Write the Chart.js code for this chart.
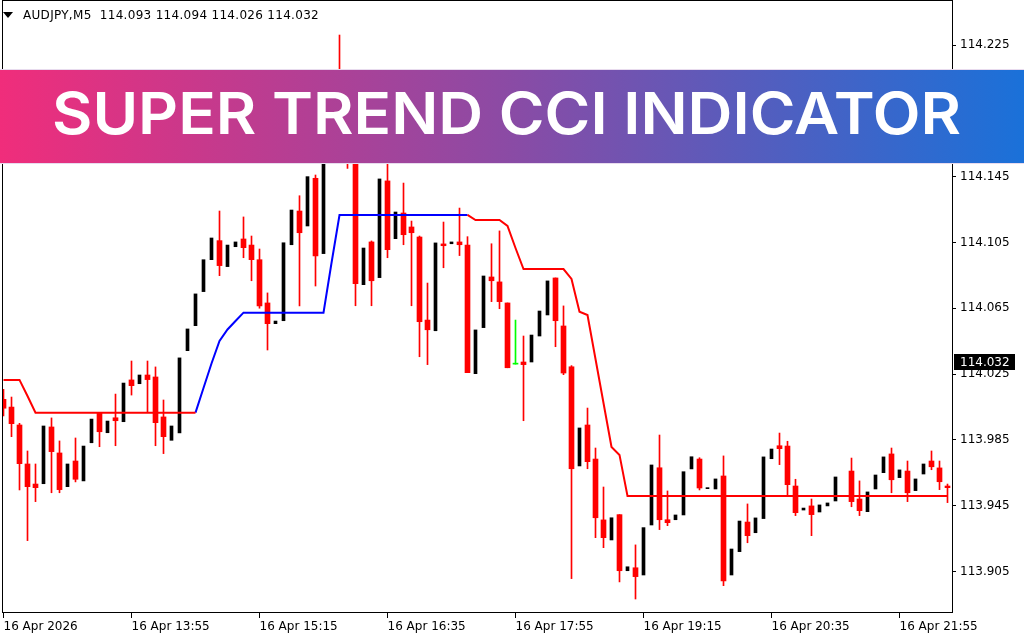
<!DOCTYPE html>
<html>
<head>
<meta charset="utf-8">
<script src="https://cdn.jsdelivr.net/npm/chart.js@4.4.1/dist/chart.umd.min.js"></script>
<style>
  html, body { margin: 0; padding: 0; background: #fff; }
  #wrap { position: relative; width: 1024px; height: 640px; overflow: hidden; }
  #title { position: absolute; left: 3px; top: 8px; font: 12px "DejaVu Sans"; letter-spacing: 0.3px; white-space: pre; color: #000; }
  .tri { display: inline-block; width: 0; height: 0; border-left: 5px solid transparent; border-right: 5px solid transparent; border-top: 6px solid #000; margin-right: 10px; vertical-align: 1px; }
  #banner { position: absolute; left: 0; top: 70px; width: 1024px; height: 93px;
    background: linear-gradient(90deg, #f02d7b 0%, #8a4ba5 50%, #1a71d9 100%);
    box-shadow: 0 -1px 0 #e8dbee, 0 1px 0 #e8dbee; }
  #banner span { position: absolute; left: 52px; top: 0; font-family: Inter; font-weight: 600; color: #fff; white-space: nowrap; }
</style>
</head>
<body>
<div id="wrap">
  <canvas id="chart" width="1024" height="640"></canvas>
  <div id="title"><span class="tri"></span>AUDJPY,M5  114.093 114.094 114.026 114.032</div>
  <div id="banner"><span id="bannerText">SUPER TREND CCI INDICATOR</span></div>
</div>
<script>
// M5 candles, 16 Apr 12:35 .. 22:25
var open = [
  114.0096,114.0049,113.9940,113.9703,113.9581,113.9583,113.9928,113.9770,113.9565,113.9721,
  113.9600,113.9832,114.0011,113.9893,113.9984,113.9960,114.0214,114.0191,114.0244,114.0232,
  113.9989,113.9847,113.9892,114.0392,114.0544,114.0751,114.0945,114.1061,114.0903,114.1024,
  114.1071,114.1034,114.0945,114.0682,114.0556,114.0574,114.1036,114.1241,114.1150,114.1440,
  114.0982,114.1600,114.2000,114.1740,114.1600,114.0793,114.1053,114.0836,114.1424,114.1073,
  114.1229,114.1144,114.1083,114.0578,114.0513,114.1041,114.1042,114.1053,114.1034,114.0252,
  114.0532,114.0840,114.0810,114.0682,114.0310,114.0323,114.0323,114.0481,114.0609,114.0834,
  114.0542,114.0294,113.9691,113.9940,113.9733,113.9363,113.9241,113.9395,113.9054,113.9072,
  113.9028,113.9332,113.9680,113.9364,113.9364,113.9393,113.9673,113.9733,113.9553,113.9551,
  113.9630,113.9028,113.9170,113.9350,113.9285,113.9371,113.9735,113.9814,113.9812,113.9569,
  113.9423,113.9448,113.9411,113.9448,113.9478,113.9505,113.9660,113.9490,113.9413,113.9551,
  113.9650,113.9764,113.9620,113.9660,113.9541,113.9642,113.9721,113.9679,113.9569
];
var high = [
  114.0157,114.0110,113.9950,113.9782,113.9703,113.9934,113.9983,113.9843,113.9703,113.9861,
  113.9812,113.9976,114.0011,113.9964,114.0128,114.0195,114.0329,114.0244,114.0329,114.0293,
  114.0092,113.9934,114.0348,114.0524,114.0737,114.0945,114.1077,114.1241,114.1034,114.1053,
  114.1205,114.1089,114.1010,114.0743,114.0572,114.1048,114.1247,114.1334,114.1450,114.1460,
  114.1620,114.1900,114.2311,114.1800,114.1650,114.1016,114.1059,114.1436,114.1580,114.1235,
  114.1411,114.1180,114.1089,114.0803,114.1047,114.1174,114.1053,114.1259,114.1085,114.0518,
  114.0846,114.1042,114.1120,114.0682,114.0578,114.0481,114.0487,114.0633,114.0816,114.0834,
  114.0664,114.0301,113.9922,114.0043,113.9800,113.9563,113.9376,113.9395,113.9078,113.9211,
  113.9316,113.9697,113.9879,113.9539,113.9393,113.9656,113.9747,113.9741,113.9558,113.9612,
  113.9752,113.9186,113.9356,113.9460,113.9375,113.9746,113.9794,113.9891,113.9841,113.9610,
  113.9435,113.9490,113.9454,113.9466,113.9624,113.9510,113.9739,113.9600,113.9533,113.9636,
  113.9746,113.9800,113.9667,113.9721,113.9612,113.9703,113.9782,113.9721,113.9581
];
var low = [
  113.9995,113.9869,113.9545,113.9237,113.9474,113.9583,113.9528,113.9528,113.9565,113.9594,
  113.9600,113.9832,113.9808,113.9893,113.9814,113.9960,114.0122,114.0191,114.0017,113.9814,
  113.9766,113.9847,113.9892,114.0392,114.0544,114.0751,114.0945,114.0848,114.0903,114.1024,
  114.0957,114.0817,114.0650,114.0396,114.0556,114.0574,114.1036,114.0664,114.1150,114.0785,
  114.0982,114.1600,114.1650,114.1500,114.0665,114.0793,114.0665,114.0836,114.0957,114.1073,
  114.1036,114.0665,114.0355,114.0307,114.0513,114.0896,114.1042,114.0970,114.0258,114.0252,
  114.0532,114.0690,114.0647,114.0288,114.0310,113.9966,114.0323,114.0481,114.0609,114.0416,
  114.0246,113.9006,113.9691,113.9674,113.9255,113.9194,113.9241,113.8986,113.9054,113.8882,
  113.9028,113.9332,113.9304,113.9328,113.9364,113.9393,113.9673,113.9545,113.9553,113.9551,
  113.8963,113.9028,113.9170,113.9224,113.9285,113.9371,113.9735,113.9699,113.9513,113.9389,
  113.9423,113.9267,113.9411,113.9448,113.9478,113.9505,113.9443,113.9389,113.9413,113.9551,
  113.9650,113.9528,113.9620,113.9474,113.9541,113.9642,113.9668,113.9547,113.9468
];
var close = [
  114.0042,113.9948,113.9705,113.9565,113.9559,113.9934,113.9778,113.9547,113.9703,113.9610,
  113.9812,113.9976,113.9899,113.9964,113.9966,114.0195,114.0179,114.0244,114.0216,113.9954,
  113.9869,113.9934,114.0348,114.0524,114.0737,114.0945,114.1077,114.0909,114.1034,114.1053,
  114.1018,114.0945,114.0664,114.0556,114.0572,114.1048,114.1247,114.1109,114.1450,114.0968,
  114.1620,114.1900,114.1720,114.1560,114.0799,114.1016,114.0817,114.1436,114.1006,114.1235,
  114.1097,114.1109,114.0568,114.0519,114.1047,114.1030,114.1053,114.1036,114.0258,114.0518,
  114.0846,114.0817,114.0690,114.0288,114.0310,114.0307,114.0487,114.0633,114.0816,114.0574,
  114.0256,113.9674,113.9922,113.9717,113.9376,113.9255,113.9376,113.9054,113.9078,113.9018,
  113.9316,113.9697,113.9364,113.9346,113.9393,113.9656,113.9747,113.9557,113.9558,113.9612,
  113.8992,113.9186,113.9356,113.9267,113.9375,113.9746,113.9794,113.9796,113.9577,113.9407,
  113.9435,113.9395,113.9454,113.9466,113.9624,113.9510,113.9474,113.9419,113.9533,113.9636,
  113.9746,113.9607,113.9667,113.9528,113.9612,113.9703,113.9686,113.9595,113.9559
];

// super trend buffers (null = not active)
var trendDown = [
  114.0214,114.0214,114.0214,114.0116,114.0015,114.0015,114.0015,114.0015,114.0015,114.0015,
  114.0015,114.0015,114.0015,114.0015,114.0015,114.0015,114.0015,114.0015,114.0015,114.0015,
  114.0015,114.0015,114.0015,114.0015,114.0015,null,null,null,null,null,
  null,null,null,null,null,null,null,null,null,null,
  null,null,null,null,null,null,null,null,null,null,
  null,null,null,null,null,null,null,null,114.1217,114.1186,
  114.1186,114.1186,114.1186,114.1150,114.1016,114.0888,114.0888,114.0888,114.0888,114.0888,
  114.0888,114.0828,114.0629,114.0609,114.0341,114.0074,113.9806,113.9758,113.9508,113.9508,
  113.9508,113.9508,113.9508,113.9508,113.9508,113.9508,113.9508,113.9508,113.9508,113.9508,
  113.9508,113.9508,113.9508,113.9508,113.9508,113.9508,113.9508,113.9508,113.9508,113.9508,
  113.9508,113.9508,113.9508,113.9508,113.9508,113.9508,113.9508,113.9508,113.9508,113.9508,
  113.9508,113.9508,113.9508,113.9508,113.9508,113.9508,113.9508,113.9508,113.9508
];
var trendUp = [
  null,null,null,null,null,null,null,null,null,null,
  null,null,null,null,null,null,null,null,null,null,
  null,null,null,null,114.0015,114.0165,114.0314,114.0451,114.0521,114.0572,
  114.0623,114.0623,114.0623,114.0623,114.0623,114.0623,114.0623,114.0623,114.0623,114.0623,
  114.0623,114.0925,114.1217,114.1217,114.1217,114.1217,114.1217,114.1217,114.1217,114.1217,
  114.1217,114.1217,114.1217,114.1217,114.1217,114.1217,114.1217,114.1217,114.1217,null,
  null,null,null,null,null,null,null,null,null,null,
  null,null,null,null,null,null,null,null,null,null,
  null,null,null,null,null,null,null,null,null,null,
  null,null,null,null,null,null,null,null,null,null,
  null,null,null,null,null,null,null,null,null,null,
  null,null,null,null,null,null,null,null,null
];

var xTickIdx = [0, 16, 32, 48, 64, 80, 96, 112];
var xTickLabels = ['16 Apr 2026', '16 Apr 13:55', '16 Apr 15:15', '16 Apr 16:35',
                   '16 Apr 17:55', '16 Apr 19:15', '16 Apr 20:35', '16 Apr 21:55'];
var yTicks = [113.905, 113.945, 113.985, 114.025, 114.065, 114.105, 114.145, 114.185, 114.225];
var yMin = 113.8803, yMax = 114.2524;
var lastPrice = 114.032;

// split candles into floating bars
var redWick = [], redBody = [], blackBody = [], dojiWick = [], dojiBody = [];
for (var i = 0; i < open.length; i++) {
  if (close[i] < open[i]) {
    redWick.push({x: i, y: [low[i], high[i]]});
    redBody.push({x: i, y: [close[i], open[i]]});
  } else if (close[i] > open[i]) {
    blackBody.push({x: i, y: [open[i], close[i]]});
  } else {
    dojiWick.push({x: i, y: [low[i], high[i]]});
    dojiBody.push({x: i, y: [open[i], close[i]]});
  }
}

function bars(data, color, w) {
  return { type: 'bar', data: data, backgroundColor: color, barThickness: w,
           grouped: false, minBarLength: 1, borderWidth: 0, order: 2 };
}
function line(values, color) {
  return { type: 'line', data: values.map(function (v, k) { return {x: k, y: v}; }),
           borderColor: color, borderWidth: 2, pointRadius: 0, tension: 0,
           spanGaps: false, order: 0 };
}

var framePlugin = {
  id: 'frame',
  afterDraw: function (c) {
    var a = c.chartArea, ctx = c.ctx;
    ctx.save();
    ctx.strokeStyle = '#000';
    ctx.lineWidth = 1;
    ctx.strokeRect(a.left + 0.5, a.top + 0.5, a.right - a.left, a.bottom - a.top);
    var y = Math.round(c.scales.y.getPixelForValue(lastPrice));
    ctx.fillStyle = '#000';
    ctx.fillRect(a.right + 2, y - 8, 61, 16);
    ctx.fillStyle = '#fff';
    ctx.font = '12px "DejaVu Sans"';
    ctx.textBaseline = 'middle';
    ctx.fillText(lastPrice.toFixed(3), a.right + 8, y + 0.5);
    ctx.restore();
  }
};

Chart.defaults.font.family = 'DejaVu Sans';
Chart.defaults.font.size = 12;
Chart.defaults.color = '#000';

new Chart(document.getElementById('chart'), {
  type: 'bar',
  data: {
    datasets: [
      bars(redWick, '#ff0000', 1),
      bars(redBody, '#ff0000', 5),
      bars(blackBody, '#000000', 3),
      bars(dojiWick, '#00ff00', 1),
      bars(dojiBody, '#00ff00', 5),
      line(trendDown, '#ff0000'),
      line(trendUp, '#0000ff')
    ]
  },
  options: {
    responsive: false,
    animation: false,
    layout: { padding: { left: 2, top: 0, right: 0, bottom: 0 } },
    plugins: { legend: { display: false }, tooltip: { enabled: false } },
    scales: {
      x: {
        type: 'linear', min: -0.1875, max: 118.5625, offset: false,
        grid: { offset: false, drawOnChartArea: false, drawTicks: true, tickLength: 6, color: '#000' },
        border: { display: false },
        ticks: {
          align: 'start', maxRotation: 0, autoSkip: false, padding: 2,
          callback: function (v) { return xTickLabels[xTickIdx.indexOf(v)]; }
        },
        afterBuildTicks: function (s) { s.ticks = xTickIdx.map(function (v) { return {value: v}; }); },
        afterFit: function (s) { s.height = 28; s.paddingLeft = 0; s.paddingRight = 0; }
      },
      y: {
        position: 'right', min: yMin, max: yMax, beginAtZero: false,
        grid: { drawOnChartArea: false, drawTicks: true, tickLength: 4, color: '#000' },
        border: { display: false },
        ticks: { padding: 4, callback: function (v) { return v.toFixed(3); } },
        afterBuildTicks: function (s) { s.ticks = yTicks.map(function (v) { return {value: v}; }); },
        // keep the plot flush with the top edge
        afterFit: function (s) { s.width = 72; s.paddingTop = 0; s.paddingBottom = 0; }
      }
    }
  },
  plugins: [framePlugin]
});

// size the banner caption: caps 42px tall, baseline at y=134, 909px wide
var bt = document.getElementById('bannerText');
var mc = document.createElement('canvas').getContext('2d');
mc.font = '600 100px Inter';
var size = 100 * 42 / mc.measureText('H').actualBoundingBoxAscent;
mc.font = '600 ' + size + 'px Inter';
var mt = mc.measureText(bt.textContent);
bt.style.fontSize = size + 'px';
bt.style.lineHeight = (mt.fontBoundingBoxAscent + mt.fontBoundingBoxDescent) + 'px';
bt.style.top = (134 - 70 - mt.fontBoundingBoxAscent) + 'px';
bt.style.transformOrigin = '0 0';
bt.style.transform = 'scaleX(' + (909 / mt.width) + ')';
</script>
</body>
</html>
